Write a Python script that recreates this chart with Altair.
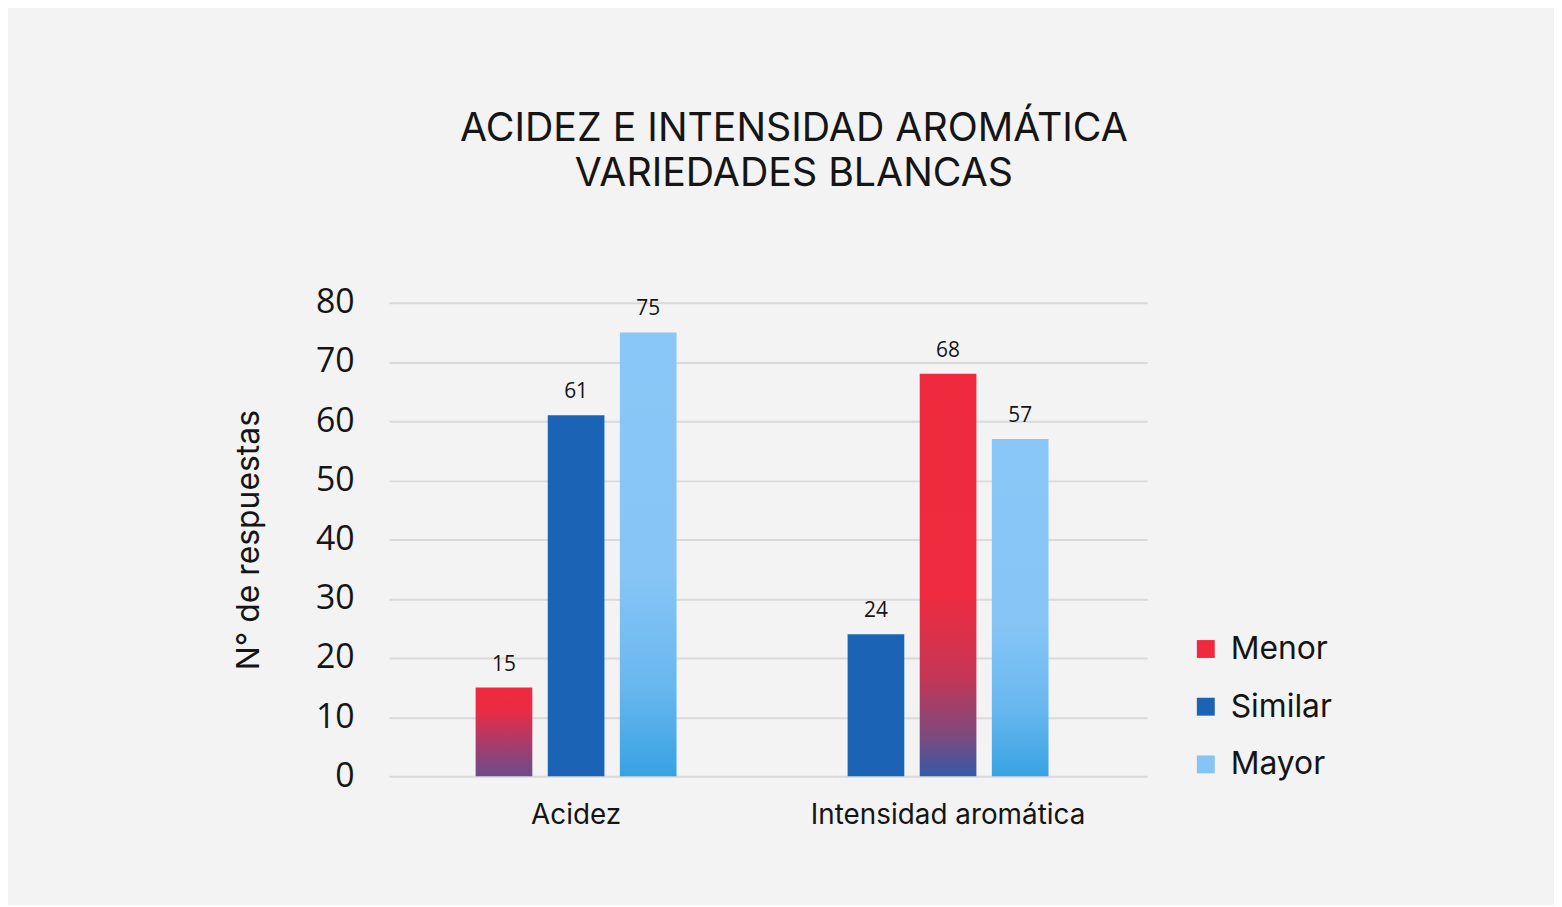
import altair as alt
import pandas as pd

# ---- data ----
categorias = ["Acidez", "Acidez", "Acidez",
              "Intensidad aromática", "Intensidad aromática", "Intensidad aromática"]
respuestas = ["Menor", "Similar", "Mayor", "Similar", "Menor", "Mayor"]
valores = [15, 61, 75, 24, 68, 57]
series = ["Menor", "Similar", "Mayor"]
orden_categorias = ["Acidez", "Intensidad aromática"]
y_ticks = [0, 10, 20, 30, 40, 50, 60, 70, 80]
titulo = ["ACIDEZ E INTENSIDAD AROMÁTICA", "VARIEDADES BLANCAS"]
eje_y = "N° de respuestas"

# position of each bar within its group (order of appearance)
orden = []
cuenta = {}
for c in categorias:
    orden.append(cuenta.get(c, 0))
    cuenta[c] = cuenta.get(c, 0) + 1

df = pd.DataFrame({"categoria": categorias, "respuesta": respuestas,
                   "valor": valores, "orden": orden})

FONT = "Inter"
NUMFONT = "Open Sans"
TXT = "#151515"


def grad(stops):
    return {"gradient": "linear", "x1": 0, "x2": 0, "y1": 0, "y2": 1,
            "stops": [{"offset": o, "color": c} for o, c in stops]}


grad_menor_bajo = grad([(0, "#ef2a3f"), (0.25, "#ea2b43"), (1, "#6a4c8e")])
grad_menor_alto = grad([(0, "#ef2a3f"), (0.55, "#ee2b40"), (0.75, "#c63655"),
                        (0.9, "#7c4a7e"), (1, "#3559a6")])
grad_mayor = grad([(0, "#89c7f7"), (0.55, "#86c5f6"), (0.8, "#68b7ef"), (1, "#38a2e2")])

x_enc = alt.X("categoria:N", sort=orden_categorias,
              scale=alt.Scale(paddingInner=0.266, paddingOuter=0.152, align=0.447),
              axis=alt.Axis(title=None, labelAngle=0, domain=False, ticks=False,
                            labelFont=FONT, labelFontSize=28, labelPadding=25,
                            labelLimit=0, labelColor=TXT))
xo_enc = alt.XOffset("orden:O", scale=alt.Scale(paddingInner=0.214, paddingOuter=0.5))
y_enc = alt.Y("valor:Q", scale=alt.Scale(domain=[0, 80]),
              axis=alt.Axis(values=y_ticks, title=eje_y, grid=True,
                            gridColor="#d9d9d9", gridWidth=2, domain=False,
                            ticks=False, labelFont=NUMFONT, labelFontSize=34,
                            labelPadding=35, labelColor=TXT,
                            titleFont=FONT, titleFontSize=32, titleFontWeight="normal",
                            titleColor=TXT, titleX=-141, titleBaseline="middle"))

base = alt.Chart(df).encode(x=x_enc, xOffset=xo_enc, y=y_enc)

similar = base.mark_bar(color="#1a63b5").transform_filter(alt.datum.respuesta == "Similar")
mayor = base.mark_bar(color=grad_mayor).transform_filter(alt.datum.respuesta == "Mayor")
menor_a = base.mark_bar(color=grad_menor_bajo).transform_filter(
    (alt.datum.respuesta == "Menor") & (alt.datum.categoria == "Acidez"))
menor_b = base.mark_bar(color=grad_menor_alto).transform_filter(
    (alt.datum.respuesta == "Menor") & (alt.datum.categoria != "Acidez"))

etiquetas = base.mark_text(font=NUMFONT, fontSize=21, dy=-23, baseline="middle",
                           color=TXT).encode(text="valor:Q")

leyenda = base.mark_point(shape="square", filled=True, opacity=0).encode(
    color=alt.Color("respuesta:N",
                    scale=alt.Scale(domain=series,
                                    range=["#ef2a3f", "#1a63b5", "#86c4f5"]),
                    legend=alt.Legend(title=None, orient="none", legendX=805, legendY=332,
                                      symbolType="square", symbolSize=324,
                                      symbolOpacity=1, symbolStrokeWidth=0,
                                      labelFont=FONT, labelFontSize=32,
                                      labelColor=TXT, labelOffset=9,
                                      rowPadding=26, padding=0)))

chart = alt.layer(similar, mayor, menor_a, menor_b, etiquetas, leyenda).properties(
    width=762, height=476,
    title=alt.Title(titulo, font=FONT, fontSize=39.5, fontWeight="normal", color=TXT,
                    anchor="middle", dx=26, offset=92, lineHeight=45),
    padding={"left": 383, "top": 294, "right": 409, "bottom": 127},
    autosize=alt.AutoSizeParams(type="none"),
    background="#f3f3f3",
).configure_view(stroke=None)

chart.save("out.html", embed_options={"renderer": "svg", "actions": False})
